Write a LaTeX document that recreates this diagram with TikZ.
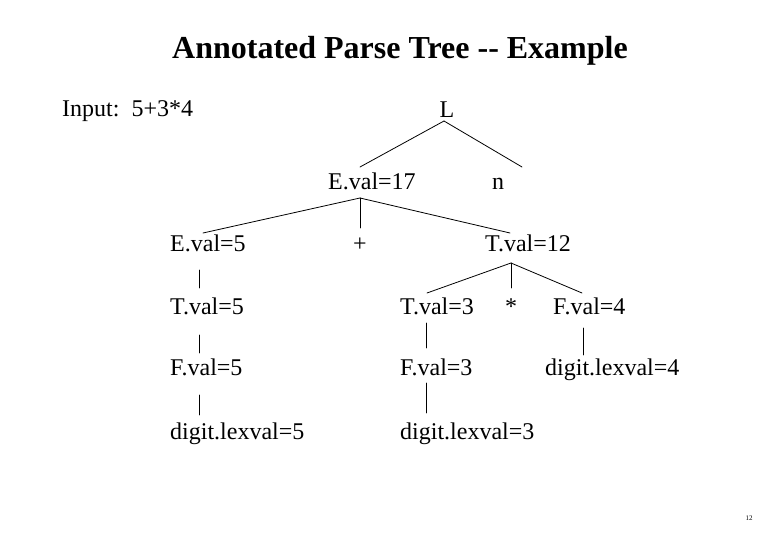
\documentclass[tikz,border=0pt]{standalone}
\usepackage{fontspec}
\setmainfont{Liberation Serif}
\usepackage{tikz}
\usetikzlibrary{calc}
\tikzstyle{every node}=[font=\fontsize{24}{28}\selectfont,inner sep=0pt]

\begin{document}
\begin{tikzpicture}[line cap=round,line join=round,x=1pt,y=-1pt,
    tree/.style={line width=0.8pt,color=black}]
                \useasboundingbox (0,0) rectangle (780,540);
                \node [anchor=base,font=\fontsize{32}{38}\selectfont\bfseries] (title) at (400,59) {Annotated Parse Tree -{}- Example};
                \node [anchor=base west] (input) at (62,117) {Input:\ \ 5+3*4};
                % tree nodes
                \node [anchor=base] (L) at (447,118) {L};
                \node [anchor=base west] (E17) at (328,190) {E.val=17};
                \node [anchor=base west] (n) at (492,190) {n};
                \node [anchor=base west] (E5) at (170,252) {E.val=5};
                \node [anchor=base] (plus) at (360,252) {+};
                \node [anchor=base west] (T12) at (485,252) {T.val=12};
                \node [anchor=base west] (T5) at (170,315) {T.val=5};
                \node [anchor=base west] (T3) at (400,315) {T.val=3};
                \node [anchor=base] (star) at (511,315) {*};
                \node [anchor=base west] (F4) at (553,315) {F.val=4};
                \node [anchor=base west] (F5) at (170,375) {F.val=5};
                \node [anchor=base west] (F3) at (400,375) {F.val=3};
                \node [anchor=base west] (D4) at (545,375) {digit.lexval=4};
                \node [anchor=base west] (D5) at (170,439) {digit.lexval=5};
                \node [anchor=base west] (D3) at (400,439) {digit.lexval=3};
                % branches
                \draw [tree] ($(L.base)+(-3,3)$) -- ($(E17.base west)+(32,-23)$);
                \draw [tree] ($(L.base)+(-3,3)$) -- ($(n.base west)+(30,-23)$);
                \draw [tree] ($(E17.base west)+(32,8)$) -- ($(E5.base west)+(33,-19)$);
                \draw [tree] ($(E17.base west)+(32,8)$) -- ($(plus.base)+(0,-24)$);
                \draw [tree] ($(E17.base west)+(32,8)$) -- ($(T12.base west)+(25,-19)$);
                \draw [tree] ($(E5.base west)+(29,18)$) -- ($(T5.base west)+(29,-27)$);
                \draw [tree] ($(T5.base west)+(29,20)$) -- ($(F5.base west)+(29,-22)$);
                \draw [tree] ($(F5.base west)+(29,20)$) -- ($(D5.base west)+(29,-24)$);
                \draw [tree] ($(T12.base west)+(26,11)$) -- ($(T3.base west)+(27,-22)$);
                \draw [tree] ($(T12.base west)+(26,11)$) -- ($(star.base)+(0,-27)$);
                \draw [tree] ($(T12.base west)+(26,11)$) -- ($(F4.base west)+(29,-22)$);
                \draw [tree] ($(T3.base west)+(26,8)$) -- ($(F3.base west)+(26,-27)$);
                \draw [tree] ($(F3.base west)+(26,8)$) -- ($(D3.base west)+(26,-26)$);
                \draw [tree] ($(F4.base west)+(30,13)$) -- ($(D4.base west)+(38,-20)$);
                \node [font=\fontsize{7}{8}\selectfont] (pageno) at (749,518) {12};
            \end{tikzpicture}
\end{document}
